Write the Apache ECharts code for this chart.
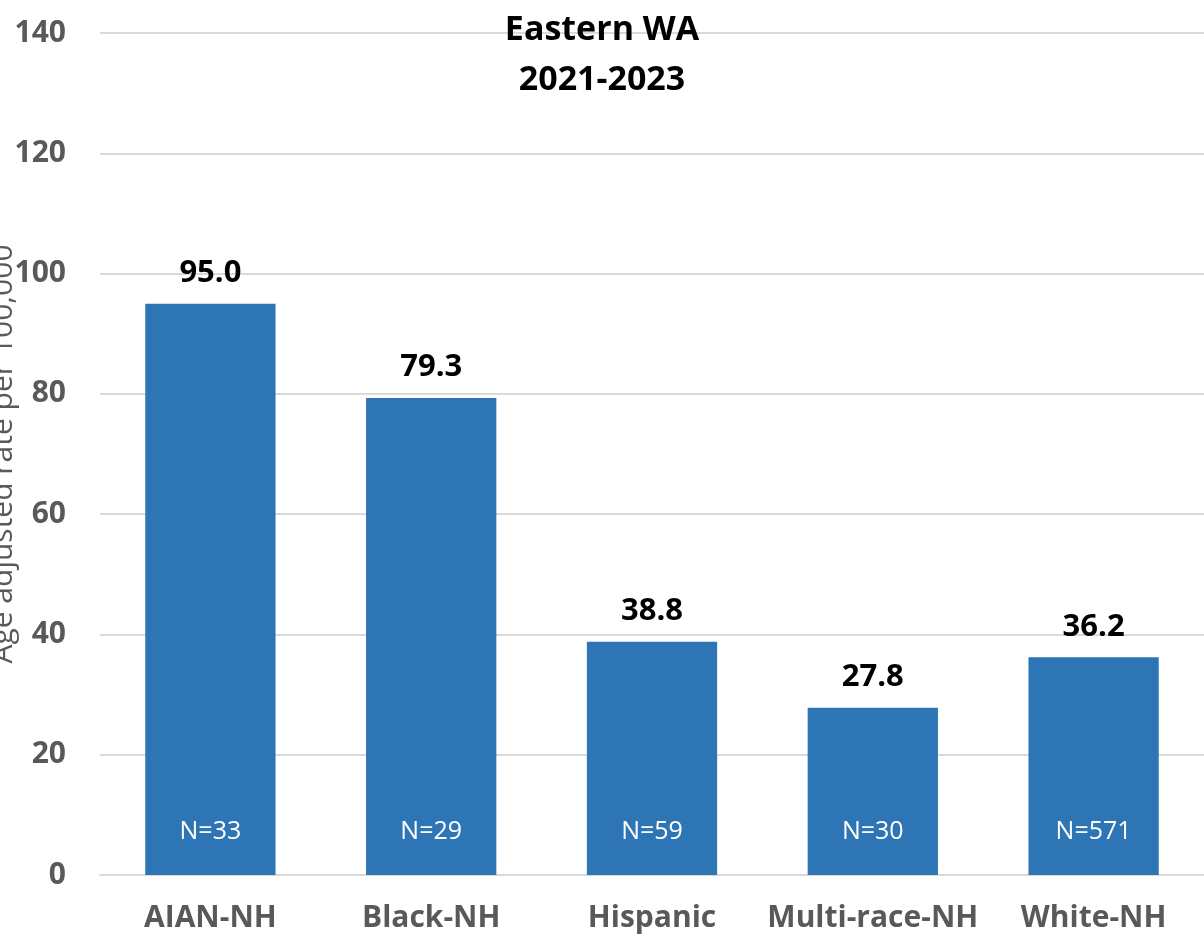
<!DOCTYPE html>
<html><head><meta charset="utf-8">
<script src="https://cdn.jsdelivr.net/npm/echarts@6/dist/echarts.min.js"></script>
<style>html,body{margin:0;padding:0;background:#fff}#c{width:1204px;height:944px}</style>
</head><body><div id="c"></div>
<script>
var categories = ['AIAN-NH', 'Black-NH', 'Hispanic', 'Multi-race-NH', 'White-NH'];
var rates = [95.0, 79.3, 38.8, 27.8, 36.2];
var counts = [33, 29, 59, 30, 571];
var yTicks = [0, 20, 40, 60, 80, 100, 120, 140];
var FONT = '"Open Sans", "Liberation Sans", sans-serif';

var chart = echarts.init(document.getElementById('c'), null, {renderer: 'canvas'});
chart.setOption({
  animation: false,
  backgroundColor: '#fff',
  title: {
    text: 'Eastern WA\n2021-2023',
    left: 'center',
    top: 0,
    textStyle: {fontFamily: FONT, fontWeight: 'bold', fontSize: 34, color: '#000', lineHeight: 50}
  },
  grid: {left: 100, right: 0, top: 33, bottom: 69, containLabel: false, outerBoundsMode: 'none'},
  xAxis: {
    type: 'category',
    data: categories,
    axisLine: {lineStyle: {color: '#D9D9D9', width: 2}},
    axisTick: {show: false},
    axisLabel: {interval: 0, fontFamily: FONT, fontWeight: 'bold', fontSize: 30, color: '#595959', margin: 28}
  },
  yAxis: {
    type: 'value',
    min: yTicks[0],
    max: yTicks[yTicks.length - 1],
    interval: 20,
    name: 'Age adjusted rate per 100,000',
    nameLocation: 'middle',
    nameGap: 82,
    nameMoveOverlap: false,
    nameTextStyle: {fontFamily: FONT, fontSize: 30, color: '#595959'},
    axisLine: {show: false},
    axisTick: {show: false},
    axisLabel: {fontFamily: FONT, fontWeight: 'bold', fontSize: 30, color: '#595959', margin: 34},
    splitLine: {lineStyle: {color: '#D9D9D9', width: 2}}
  },
  series: [
    {
      type: 'bar',
      data: rates,
      barCategoryGap: '41%',
      itemStyle: {color: '#2E75B6'},
      label: {
        show: true, position: 'top', distance: 15,
        formatter: function (p) { return p.value.toFixed(1); },
        fontFamily: FONT, fontWeight: 'bold', fontSize: 31, color: '#000'
      }
    },
    {
      type: 'bar',
      data: rates,
      barGap: '-100%',
      barCategoryGap: '41%',
      itemStyle: {color: 'rgba(0,0,0,0)'},
      z: 5,
      label: {
        show: true, position: 'insideBottom', distance: 31,
        formatter: function (p) { return 'N=' + counts[p.dataIndex]; },
        fontFamily: FONT, fontSize: 25, color: '#fff'
      }
    }
  ]
});
</script></body></html>
